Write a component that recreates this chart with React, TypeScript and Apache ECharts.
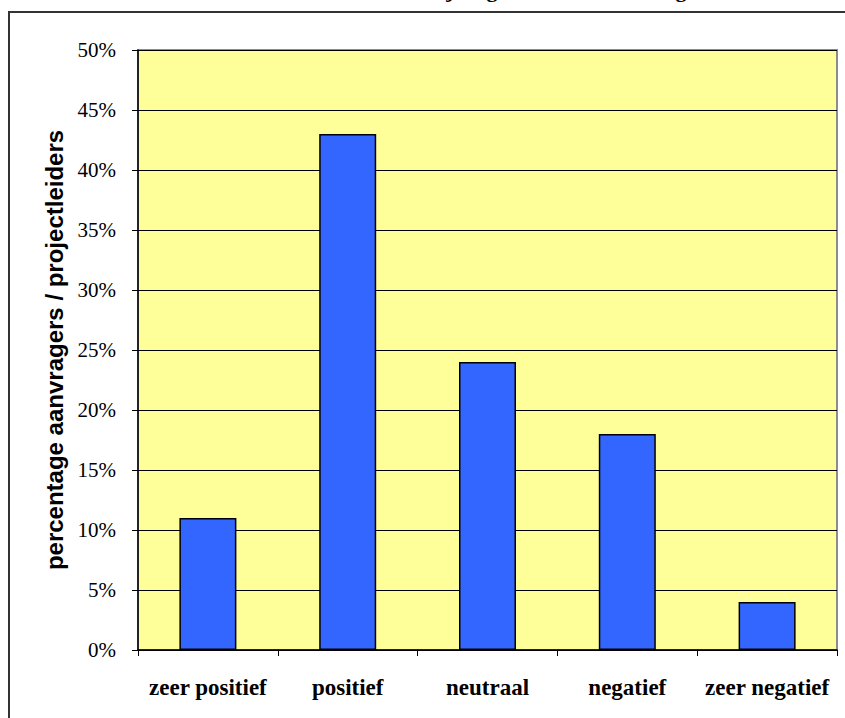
import React, { useEffect, useRef } from "react";
import * as echarts from "echarts";

const categories = ["zeer positief", "positief", "neutraal", "negatief", "zeer negatief"];
const percentages = [11, 43, 24, 18, 4];
const titleText = "Oordeel over bijdrage aan de doelstelling";
const yAxisName = "percentage aanvragers / projectleiders";

export default function App() {
  const ref = useRef<HTMLDivElement>(null);
  useEffect(() => {
    if (!ref.current) return;
    const chart = echarts.init(ref.current, null, { renderer: "svg" });
    chart.setOption({
      animation: false,
      backgroundColor: "#ffffff",
      graphic: [
        {
          type: "rect",
          shape: { x: 9, y: 12, width: 900, height: 800 },
          style: { fill: "#ffffff", stroke: "#333333", lineWidth: 2 },
          z: -10,
        },
        {
          type: "text",
          x: 300,
          y: -22,
          style: {
            text: titleText,
            fontFamily: "Liberation Serif",
            fontWeight: "bold",
            fontSize: 22,
            fill: "#000",
            align: "left",
            verticalAlign: "top",
          },
        },
      ],
      grid: {
        left: 138,
        top: 50,
        width: 699,
        height: 600,
        show: true,
        backgroundColor: "#FFFF99",
        borderColor: "#8c8c8c",
        borderWidth: 2,
      },
      xAxis: {
        type: "category",
        data: categories,
        boundaryGap: true,
        axisLine: { show: true, lineStyle: { color: "#000", width: 1.5 } },
        axisTick: { show: true, alignWithLabel: false, length: 6, lineStyle: { color: "#000" } },
        axisLabel: {
          margin: 26,
          fontFamily: "Liberation Serif",
          fontWeight: "bold",
          fontSize: 23,
          color: "#000",
          interval: 0,
        },
      },
      yAxis: {
        type: "value",
        min: 0,
        max: 50,
        interval: 5,
        name: yAxisName,
        nameLocation: "middle",
        nameGap: 53,
        nameTextStyle: {
          fontFamily: "Liberation Sans",
          fontWeight: "bold",
          fontSize: 24,
          color: "#000",
        },
        axisLine: { show: true, lineStyle: { color: "#000", width: 1.5 } },
        axisTick: { show: true, length: 6, lineStyle: { color: "#000" } },
        axisLabel: {
          formatter: "{value}%",
          margin: 22,
          fontFamily: "Liberation Serif",
          fontSize: 21,
          color: "#000",
        },
        splitLine: { show: true, lineStyle: { color: "#000", width: 1 } },
      },
      series: [
        {
          type: "bar",
          data: percentages,
          barWidth: 57,
          itemStyle: { color: "#3366FF", borderColor: "#000", borderWidth: 1.5 },
        },
      ],
    });
    return () => chart.dispose();
  }, []);
  return (
    <div
      ref={ref}
      style={{ position: "fixed", left: 0, top: 0, width: 845, height: 718 }}
    />
  );
}
